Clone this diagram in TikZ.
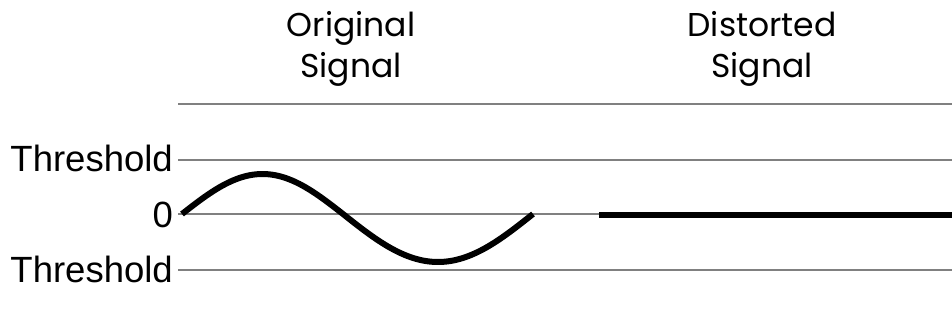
\documentclass[tikz,border=0pt]{standalone}
\usepackage{fontspec}
\setmainfont{Liberation Sans}
\newfontfamily\titlefont{Poppins}
\begin{document}
\begin{tikzpicture}[x=1pt,y=-1pt,
  refline/.style={draw=black!50, line width=1.6pt},
  sigline/.style={draw=black, line width=6pt},
  title/.style={anchor=base, inner sep=0pt, font=\titlefont\fontsize{33}{40}\selectfont},
  lab/.style={anchor=base east, inner sep=0pt, font=\fontsize{36.5}{42}\selectfont}]
\useasboundingbox (0,0) rectangle (952,324);
% titles
\node[title] (t1a) at (351,36) {Original};
\node[title] (t1b) at (351,77) {Signal};
\node[title] (t2a) at (762,36) {Distorted};
\node[title] (t2b) at (762,77) {Signal};
% labels
\node[lab] (thu) at (173,171) {Threshold};
\node[lab] (zero) at (173,227) {0};
\node[lab] (thl) at (173,282) {Threshold};
% reference lines
\coordinate (hs) at (178,104); \coordinate (he) at (952,104);
\coordinate (us) at (178,160); \coordinate (ue) at (952,160);
\coordinate (zs) at (178,214); \coordinate (ze) at (952,214);
\coordinate (ls) at (178,270); \coordinate (le) at (952,270);
\draw[refline] (hs) -- (he);
\draw[refline] (us) -- (ue);
\draw[refline] (zs) -- (ze);
\draw[refline] (ls) -- (le);
% original signal
\draw[sigline] plot[domain=182:343, samples=60, smooth] (\x,{214-40*sin((\x-182)*1.118)})
  -- plot[domain=343:533, samples=60, smooth] (\x,{214+48*sin((\x-343)*0.9474)});
% distorted signal
\coordinate (ds) at (599,214.5); \coordinate (de) at (952,214.5);
\draw[sigline] (ds) -- (de);
\end{tikzpicture}
\end{document}
